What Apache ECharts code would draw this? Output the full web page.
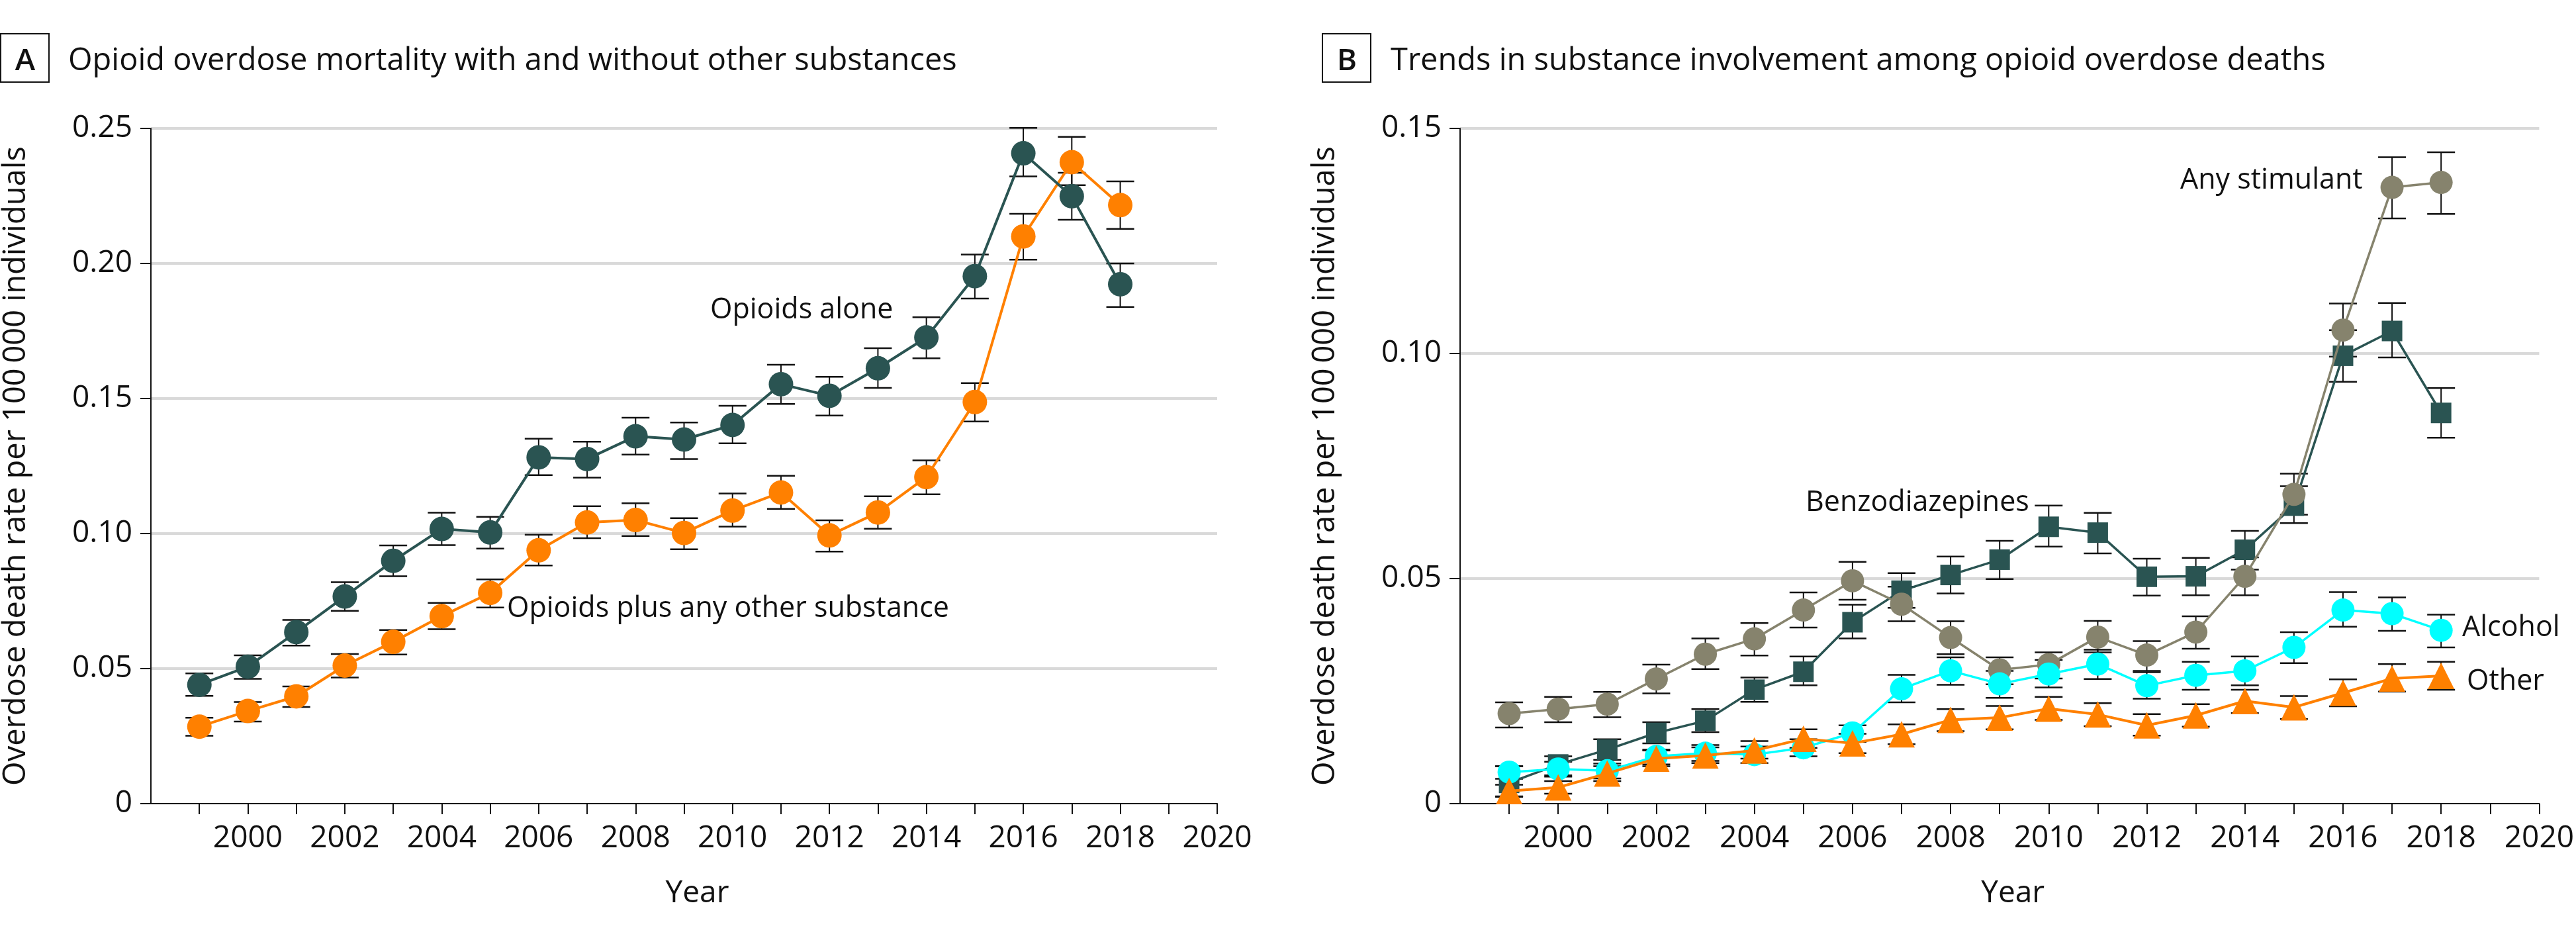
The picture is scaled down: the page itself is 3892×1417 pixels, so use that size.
<!DOCTYPE html>
<html>
<head>
<meta charset="utf-8">
<script src="https://cdn.jsdelivr.net/npm/echarts@6/dist/echarts.min.js"></script>
<style>
  html, body { margin: 0; padding: 0; background: #ffffff; }
  #chart { width: 3892px; height: 1417px; }
</style>
</head>
<body>
<div id="chart"></div>
<script>
// ---------------- data ----------------
const years = [1999, 2000, 2001, 2002, 2003, 2004, 2005, 2006, 2007, 2008, 2009, 2010, 2011, 2012, 2013, 2014, 2015, 2016, 2017, 2018];
const xTickYears = [1999, 2000, 2001, 2002, 2003, 2004, 2005, 2006, 2007, 2008, 2009, 2010, 2011, 2012, 2013, 2014, 2015, 2016, 2017, 2018, 2019, 2020];
const xLabelYears = [2000, 2002, 2004, 2006, 2008, 2010, 2012, 2014, 2016, 2018, 2020];

// Panel A
const opioidsAlone   = [0.0440, 0.0507, 0.0635, 0.0767, 0.0899, 0.1017, 0.1004, 0.1282, 0.1276, 0.1360, 0.1348, 0.1402, 0.1553, 0.1510, 0.1612, 0.1726, 0.1953, 0.2408, 0.2249, 0.1923];
const opioidsAloneLo = [0.0399, 0.0462, 0.0585, 0.0714, 0.0842, 0.0957, 0.0944, 0.1216, 0.1207, 0.1292, 0.1276, 0.1334, 0.1480, 0.1437, 0.1539, 0.1649, 0.1870, 0.2322, 0.2162, 0.1839];
const opioidsAloneHi = [0.0482, 0.0549, 0.0680, 0.0820, 0.0956, 0.1077, 0.1062, 0.1351, 0.1340, 0.1429, 0.1411, 0.1473, 0.1625, 0.1580, 0.1686, 0.1801, 0.2033, 0.2502, 0.2336, 0.2000];

const opioidsPlus   = [0.0285, 0.0343, 0.0397, 0.0511, 0.0599, 0.0694, 0.0780, 0.0938, 0.1041, 0.1050, 0.1002, 0.1085, 0.1152, 0.0993, 0.1078, 0.1209, 0.1487, 0.2100, 0.2375, 0.2216];
const opioidsPlusLo = [0.0251, 0.0304, 0.0358, 0.0467, 0.0552, 0.0646, 0.0726, 0.0882, 0.0983, 0.0991, 0.0942, 0.1026, 0.1091, 0.0933, 0.1018, 0.1145, 0.1415, 0.2014, 0.2290, 0.2128];
const opioidsPlusHi = [0.0318, 0.0376, 0.0434, 0.0554, 0.0643, 0.0743, 0.0830, 0.0996, 0.1101, 0.1112, 0.1057, 0.1148, 0.1214, 0.1049, 0.1138, 0.1271, 0.1557, 0.2184, 0.2469, 0.2304];

// Panel B
const stimulant   = [0.0200, 0.0210, 0.0221, 0.0277, 0.0332, 0.0366, 0.0430, 0.0495, 0.0443, 0.0369, 0.0297, 0.0309, 0.0370, 0.0330, 0.0381, 0.0505, 0.0687, 0.1052, 0.1369, 0.1380];
const stimulantLo = [0.0169, 0.0181, 0.0192, 0.0245, 0.0299, 0.0329, 0.0391, 0.0453, 0.0405, 0.0332, 0.0265, 0.0278, 0.0336, 0.0295, 0.0344, 0.0463, 0.0642, 0.0993, 0.1300, 0.1310];
const stimulantHi = [0.0225, 0.0237, 0.0248, 0.0309, 0.0367, 0.0401, 0.0469, 0.0537, 0.0482, 0.0405, 0.0325, 0.0336, 0.0406, 0.0361, 0.0416, 0.0547, 0.0733, 0.1111, 0.1436, 0.1447];

const benzo   = [0.0046, 0.0087, 0.0120, 0.0157, 0.0184, 0.0253, 0.0293, 0.0403, 0.0473, 0.0508, 0.0542, 0.0615, 0.0602, 0.0504, 0.0505, 0.0564, 0.0662, 0.0995, 0.1050, 0.0868];
const benzoLo = [0.0016, 0.0063, 0.0097, 0.0134, 0.0159, 0.0226, 0.0263, 0.0367, 0.0435, 0.0467, 0.0499, 0.0571, 0.0556, 0.0462, 0.0463, 0.0520, 0.0623, 0.0937, 0.0991, 0.0813];
const benzoHi = [0.0083, 0.0105, 0.0143, 0.0181, 0.0210, 0.0280, 0.0327, 0.0442, 0.0512, 0.0549, 0.0584, 0.0662, 0.0646, 0.0544, 0.0546, 0.0606, 0.0705, 0.1052, 0.1112, 0.0923];

const alcohol   = [0.0070, 0.0077, 0.0073, 0.0105, 0.0112, 0.0109, 0.0124, 0.0157, 0.0255, 0.0295, 0.0266, 0.0288, 0.0310, 0.0262, 0.0285, 0.0295, 0.0347, 0.0430, 0.0422, 0.0385];
const alcoholLo = [0.0055, 0.0060, 0.0056, 0.0087, 0.0095, 0.0090, 0.0105, 0.0137, 0.0225, 0.0264, 0.0235, 0.0258, 0.0277, 0.0233, 0.0253, 0.0263, 0.0312, 0.0393, 0.0384, 0.0347];
const alcoholHi = [0.0083, 0.0093, 0.0089, 0.0120, 0.0130, 0.0127, 0.0143, 0.0174, 0.0286, 0.0325, 0.0295, 0.0319, 0.0342, 0.0292, 0.0315, 0.0327, 0.0381, 0.0470, 0.0458, 0.0420];

const other   = [0.0028, 0.0036, 0.0067, 0.0100, 0.0107, 0.0118, 0.0144, 0.0134, 0.0154, 0.0186, 0.0191, 0.0211, 0.0198, 0.0174, 0.0196, 0.0228, 0.0214, 0.0246, 0.0278, 0.0284];
const otherLo = [0.0015, 0.0022, 0.0050, 0.0083, 0.0090, 0.0100, 0.0124, 0.0112, 0.0132, 0.0161, 0.0165, 0.0186, 0.0172, 0.0151, 0.0171, 0.0201, 0.0188, 0.0216, 0.0249, 0.0253];
const otherHi = [0.0042, 0.0050, 0.0083, 0.0118, 0.0125, 0.0139, 0.0165, 0.0155, 0.0176, 0.0210, 0.0217, 0.0237, 0.0223, 0.0199, 0.0221, 0.0253, 0.0239, 0.0276, 0.0310, 0.0315];

const titleA = 'Opioid overdose mortality with and without other substances';
const titleB = 'Trends in substance involvement among opioid overdose deaths';
const yAxisName = 'Overdose death rate per 100\u2009000 individuals';
const xAxisName = 'Year';

// ---------------- styles ----------------
const FONT = 'Open Sans';
const C_TEAL = '#2a5452';
const C_ORANGE = '#ff8000';
const C_STIM = '#86836d';
const C_CYAN = '#00ffff';

const pts = (ys) => years.map((y, i) => [y, ys[i]]);
const ci = (lo, hi) => years.map((y, i) => [y, lo[i], hi[i]]);

function errorBarRender(params, api) {
  const x = api.value(0);
  const pHi = api.coord([x, api.value(2)]);
  const pLo = api.coord([x, api.value(1)]);
  const hw = 21;
  const st = { stroke: '#111', lineWidth: 2.5 };
  return {
    type: 'group',
    children: [
      { type: 'line', shape: { x1: pHi[0], y1: pHi[1], x2: pLo[0], y2: pLo[1] }, style: { stroke: '#111', lineWidth: 2 } },
      { type: 'line', shape: { x1: pHi[0] - hw, y1: pHi[1], x2: pHi[0] + hw, y2: pHi[1] }, style: st },
      { type: 'line', shape: { x1: pLo[0] - hw, y1: pLo[1], x2: pLo[0] + hw, y2: pLo[1] }, style: st }
    ]
  };
}

function errSeries(idx, data) {
  return {
    type: 'custom', xAxisIndex: idx, yAxisIndex: idx, renderItem: errorBarRender,
    encode: { x: 0, y: [1, 2] }, data: data, z: 1, silent: true
  };
}

function lineSeries(idx, data, color, symbol, size, width, z) {
  return {
    type: 'line', xAxisIndex: idx, yAxisIndex: idx, data: data,
    symbol: symbol, symbolSize: size, showSymbol: true,
    itemStyle: { color: color, opacity: 1 },
    lineStyle: { color: color, width: width },
    z: z, silent: true
  };
}

function xAxisDef(idx) {
  return {
    type: 'value', gridIndex: idx, min: 1998, max: 2020, interval: 1,
    axisLine: { show: true, lineStyle: { color: '#111', width: 2 } },
    axisTick: { show: true, customValues: xTickYears, length: 16, inside: false, lineStyle: { color: '#111', width: 2 } },
    axisLabel: { show: true, customValues: xLabelYears, formatter: (v) => String(v), margin: 30,
                 fontFamily: FONT, fontSize: 46, color: '#111' },
    splitLine: { show: false },
    name: xAxisName, nameLocation: 'middle', nameGap: 113,
    nameTextStyle: { fontFamily: FONT, fontSize: 46, color: '#111', padding: [0, 0, 0, 40] }
  };
}

function yAxisDef(idx, max) {
  return {
    type: 'value', gridIndex: idx, min: 0, max: max, interval: 0.05,
    axisLine: { show: true, lineStyle: { color: '#111', width: 2 } },
    axisTick: { show: true, length: 16, inside: false, lineStyle: { color: '#111', width: 2 } },
    axisLabel: { margin: 28, fontFamily: FONT, fontSize: 46, color: '#111',
                 formatter: (v) => (v === 0 ? '0' : v.toFixed(2)) },
    splitLine: { show: true, showMinLine: false, lineStyle: { color: '#d9d9d9', width: 4 } },
    name: yAxisName, nameLocation: 'middle', nameRotate: 90, nameGap: 180,
    nameTextStyle: { fontFamily: FONT, fontSize: 47, color: '#111' }
  };
}

function titleGroup(boxX, textX, letter, text) {
  return [
    { type: 'rect', shape: { x: boxX + 1, y: 51, width: 73, height: 73 },
      style: { fill: '#fff', stroke: '#111', lineWidth: 2 } },
    { type: 'text', x: boxX + 38, y: 93,
      style: { text: letter, fontFamily: FONT, fontSize: 46, fontWeight: 600, fill: '#111', align: 'center', verticalAlign: 'middle' } },
    { type: 'text', x: textX, y: 93,
      style: { text: text, fontFamily: FONT, fontSize: 47, fill: '#111', align: 'left', verticalAlign: 'middle' } }
  ];
}

function note(x, y, text) {
  return { type: 'text', x: x, y: y, z: 100,
    style: { text: text, fontFamily: FONT, fontSize: 43, fill: '#111', align: 'left', verticalAlign: 'middle' } };
}

const chart = echarts.init(document.getElementById('chart'), null, { renderer: 'canvas' });

const option = {
  backgroundColor: '#ffffff',
  animation: false,
  textStyle: { fontFamily: FONT },
  grid: [
    { left: 208, top: 194, width: 1631, height: 1020, containLabel: false },
    { left: 2206, top: 194, width: 1631, height: 1020, containLabel: false }
  ],
  xAxis: [xAxisDef(0), xAxisDef(1)],
  yAxis: [yAxisDef(0, 0.25), yAxisDef(1, 0.15)],
  series: [
    errSeries(0, ci(opioidsPlusLo, opioidsPlusHi)),
    errSeries(0, ci(opioidsAloneLo, opioidsAloneHi)),
    lineSeries(0, pts(opioidsPlus), C_ORANGE, 'circle', 37, 4, 3),
    lineSeries(0, pts(opioidsAlone), C_TEAL, 'circle', 37, 4, 4),

    errSeries(1, ci(benzoLo, benzoHi)),
    errSeries(1, ci(stimulantLo, stimulantHi)),
    errSeries(1, ci(alcoholLo, alcoholHi)),
    errSeries(1, ci(otherLo, otherHi)),
    lineSeries(1, pts(benzo), C_TEAL, 'rect', 31, 3.5, 3),
    lineSeries(1, pts(stimulant), C_STIM, 'circle', 35, 3.5, 4),
    lineSeries(1, pts(alcohol), C_CYAN, 'circle', 35, 3.5, 5),
    lineSeries(1, pts(other), C_ORANGE, 'triangle', 40, 4, 6)
  ],
  graphic: [].concat(
    titleGroup(0, 103, 'A', titleA),
    titleGroup(1997, 2101, 'B', titleB),
    [
      note(1073, 469, 'Opioids alone'),
      note(766, 920, 'Opioids plus any other substance'),
      note(3294, 273, 'Any stimulant'),
      note(2728, 760, 'Benzodiazepines'),
      note(3720, 949, 'Alcohol'),
      note(3727, 1030, 'Other')
    ]
  )
};

chart.setOption(option);
</script>
</body>
</html>
